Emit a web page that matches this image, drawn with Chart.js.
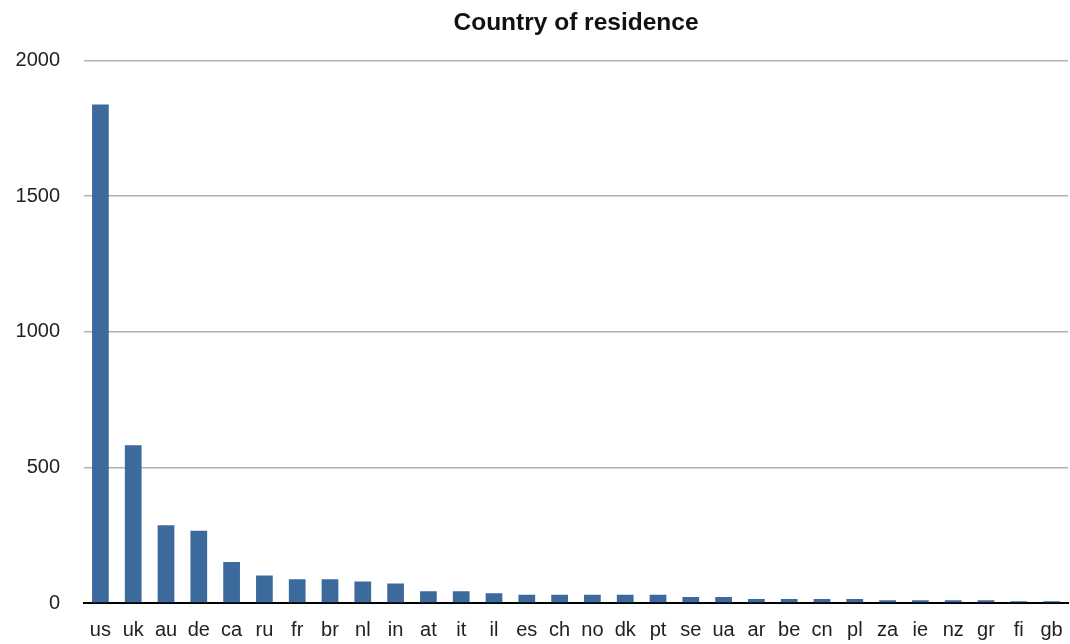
<!DOCTYPE html>
<html>
<head>
<meta charset="utf-8">
<script src="https://cdn.jsdelivr.net/npm/chart.js@4/dist/chart.umd.min.js"></script>
<style>
  html, body { margin: 0; padding: 0; background: #fff; }
  #wrap { width: 1070px; height: 644px; }
</style>
</head>
<body>
<div id="wrap"><canvas id="myChart"></canvas></div>
<script>
const countries = ['us', 'uk', 'au', 'de', 'ca', 'ru', 'fr', 'br', 'nl', 'in',
    'at', 'it', 'il', 'es', 'ch', 'no', 'dk', 'pt', 'se', 'ua',
    'ar', 'be', 'cn', 'pl', 'za', 'ie', 'nz', 'gr', 'fi', 'gb'];
const residents = [1837, 581, 287, 266, 151, 101, 88, 88, 79, 72,
    43, 43, 36, 30, 30, 30, 30, 30, 22, 22,
    15, 15, 15, 15, 10, 10, 10, 10, 6, 6];
const yTicks = [0, 500, 1000, 1500, 2000];

const font = "'Liberation Sans', Arial, sans-serif";

new Chart(document.getElementById('myChart'), {
    type: 'bar',
    data: {
        labels: countries,
        datasets: [{
            label: 'Country of residence',
            data: residents,
            backgroundColor: '#3c6a9c',
            barPercentage: 0.51,
            categoryPercentage: 1.0
        }]
    },
    options: {
        responsive: true,
        maintainAspectRatio: false,
        animation: false,
        layout: { padding: { top: 0, right: 2, bottom: 0, left: 0 } },
        plugins: {
            legend: { display: false },
            tooltip: { enabled: false },
            title: {
                display: true,
                fullSize: false,
                text: 'Country of residence',
                color: '#111',
                font: { family: font, size: 24.5, weight: 'bold' },
                padding: { top: 9, bottom: 22 }
            }
        },
        scales: {
            x: {
                afterFit: (axis) => { axis.height = 41; axis.paddingRight = 0; axis.paddingLeft = 0; },
                grid: { display: false, drawTicks: false },
                border: { display: true, color: '#000', width: 2 },
                ticks: {
                    color: '#222',
                    font: { family: font, size: 20 },
                    padding: 15,
                    maxRotation: 0,
                    autoSkip: false
                }
            },
            y: {
                min: 0,
                max: 2000,
                afterBuildTicks: (axis) => { axis.ticks = yTicks.map(v => ({ value: v })); },
                afterFit: (axis) => { axis.width = 84; },
                grid: { color: '#b0b0b0', lineWidth: 1.5, drawTicks: false },
                border: { display: false },
                ticks: {
                    color: '#222',
                    font: { family: font, size: 20 },
                    padding: 24,
                    callback: (v) => String(v)
                }
            }
        }
    }
});
</script>
</body>
</html>
